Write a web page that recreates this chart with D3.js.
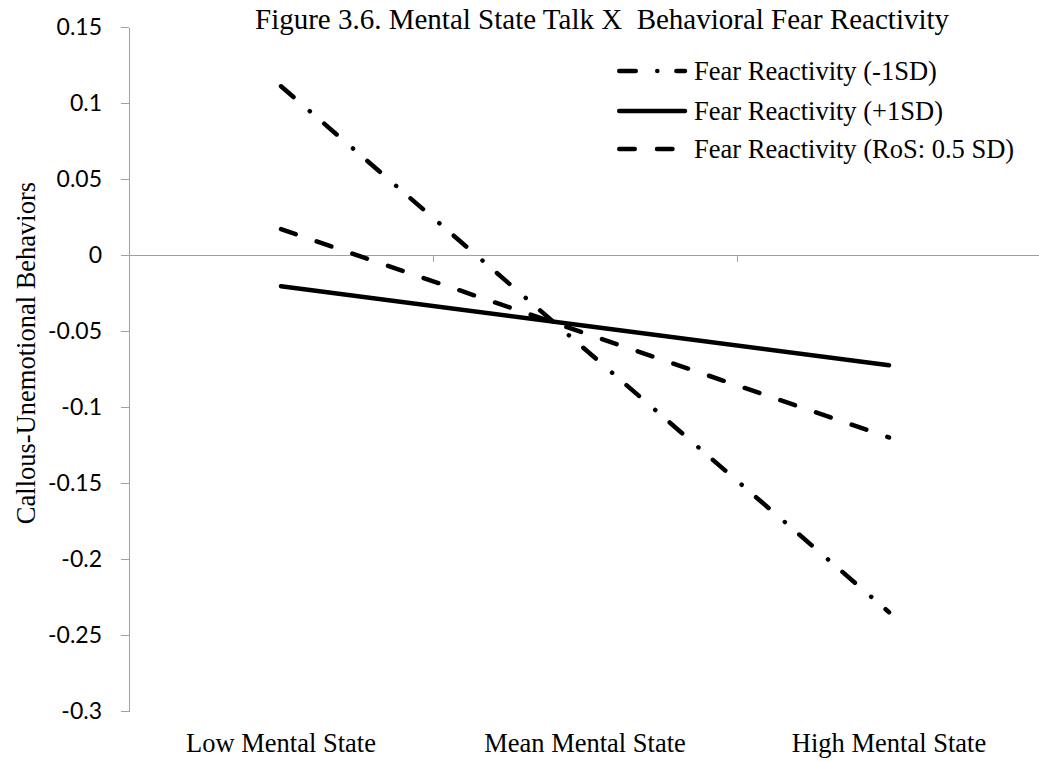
<!DOCTYPE html>
<html>
<head>
    <meta charset="utf-8">
    <script src="https://d3js.org/d3.v7.min.js"></script>
    <style>
        body {
            margin: 0;
            background: #fff;
        }

        .axis path,
        .axis line {
            stroke: #a0a0a0;
            stroke-width: 1.3px;
            shape-rendering: crispEdges;
        }

        .axis text {
            font-family: Lato, "Open Sans", sans-serif;
            font-size: 23px;
            fill: #000;
        }

        .serif {
            font-family: "Liberation Serif", "Times New Roman", serif;
            fill: #000;
        }

        .series {
            fill: none;
            stroke: #000;
            stroke-width: 4.5px;
            stroke-linecap: round;
        }
    </style>
</head>
<body>
    <svg width="1039" height="762"></svg>
    <script>
        // data
        var categories = ["Low Mental State", "Mean Mental State", "High Mental State"];
        var minus1SD = [0.111, -0.062, -0.235];
        var plus1SD = [-0.0205, -0.0465, -0.0725];
        var rosHalfSD = [0.017, -0.0515, -0.12];
        var yTicks = [0.15, 0.1, 0.05, 0, -0.05, -0.1, -0.15, -0.2, -0.25, -0.3];
        var seriesNames = ["Fear Reactivity (-1SD)", "Fear Reactivity (+1SD)", "Fear Reactivity (RoS: 0.5 SD)"];

        var series = [
            { name: seriesNames[0], values: minus1SD, dash: "16.5,21.5,0.1,19" },
            { name: seriesNames[1], values: plus1SD, dash: null },
            { name: seriesNames[2], values: rosHalfSD, dash: "15.5,22.2" }
        ];

        var svg = d3.select("svg");

        var plotLeft = 129, plotRight = 1041, plotTop = 27, plotBottom = 711;

        var x = d3.scaleBand().domain(categories).range([plotLeft, plotRight]).padding(0);
        var xEdge = d3.scaleLinear().domain([0, categories.length]).range([plotLeft, plotRight]);
        var y = d3.scaleLinear().domain([-0.3, 0.15]).range([plotBottom, plotTop]);

        // y axis
        svg.append("g")
            .attr("class", "axis")
            .attr("transform", "translate(" + plotLeft + ",0)")
            .call(d3.axisLeft(y)
                .tickValues(yTicks)
                .tickSize(8)
                .tickSizeOuter(0)
                .tickPadding(19)
                .tickFormat(function (d) {
                    return String(+d.toFixed(2));
                }));

        // x axis sits on zero
        svg.append("g")
            .attr("class", "axis")
            .attr("transform", "translate(0," + y(0) + ")")
            .call(d3.axisBottom(xEdge)
                .tickValues(d3.range(categories.length + 1))
                .tickSize(7)
                .tickSizeOuter(0)
                .tickFormat(""));

        // category labels
        svg.selectAll(".cat")
            .data(categories)
            .enter().append("text")
            .attr("class", "serif cat")
            .attr("x", function (d) { return x(d) + x.bandwidth() / 2; })
            .attr("y", 752)
            .attr("text-anchor", "middle")
            .style("font-size", "26.5px")
            .text(function (d) { return d; });

        // lines
        var line = d3.line()
            .x(function (d, i) { return x(categories[i]) + x.bandwidth() / 2; })
            .y(function (d) { return y(d); });

        svg.selectAll(".series")
            .data(series)
            .enter().append("path")
            .attr("class", "series")
            .attr("d", function (d) { return line(d.values); })
            .attr("stroke-dasharray", function (d) { return d.dash; });

        // title
        svg.append("text")
            .attr("class", "serif")
            .attr("x", 255)
            .attr("y", 29)
            .style("font-size", "29px")
            .text("Figure 3.6. Mental State Talk X\u00a0 Behavioral Fear Reactivity");

        // y title
        svg.append("text")
            .attr("class", "serif")
            .attr("transform", "translate(35,353) rotate(-90)")
            .attr("text-anchor", "middle")
            .style("font-size", "26.5px")
            .text("Callous-Unemotional Behaviors");

        // legend
        var legend = svg.selectAll(".legend")
            .data(series)
            .enter().append("g")
            .attr("class", "legend")
            .attr("transform", function (d, i) { return "translate(0," + [71, 111, 149][i] + ")"; });

        legend.append("line")
            .attr("class", "series")
            .attr("x1", 619.25)
            .attr("x2", 685)
            .attr("y1", 0)
            .attr("y2", 0)
            .attr("stroke-dasharray", function (d) { return d.dash; });

        legend.append("text")
            .attr("class", "serif")
            .attr("x", 694)
            .attr("y", 9)
            .style("font-size", "26.5px")
            .text(function (d) { return d.name; });
    </script>
</body>
</html>
